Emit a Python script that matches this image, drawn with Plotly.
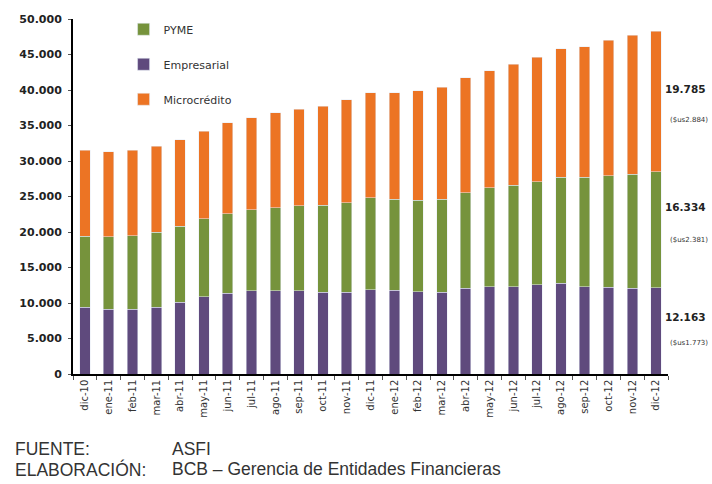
import plotly.graph_objects as go

meses = ["dic-10", "ene-11", "feb-11", "mar-11", "abr-11", "may-11", "jun-11", "jul-11",
         "ago-11", "sep-11", "oct-11", "nov-11", "dic-11", "ene-12", "feb-12", "mar-12",
         "abr-12", "may-12", "jun-12", "jul-12", "ago-12", "sep-12", "oct-12", "nov-12", "dic-12"]

empresarial = [9400, 9100, 9100, 9400, 10100, 10900, 11400, 11700, 11700, 11700, 11500, 11500,
               11900, 11800, 11600, 11500, 12100, 12300, 12300, 12600, 12800, 12300, 12250, 12100, 12163]
pyme = [10000, 10200, 10400, 10600, 10700, 11000, 11200, 11400, 11700, 12000, 12300, 12600,
        12900, 12800, 12900, 13100, 13400, 13900, 14300, 14500, 14900, 15400, 15650, 16000, 16334]
microcredito = [12100, 12000, 12000, 12100, 12200, 12300, 12800, 13000, 13400, 13600, 13900, 14500,
                14800, 15000, 15400, 15800, 16200, 16500, 17000, 17500, 18100, 18400, 19100, 19600, 19785]

etiquetas_derecha = [
    ("19.785", "($us2.884)"),
    ("16.334", "($us2.381)"),
    ("12.163", "($us1.773)"),
]

C_PURPLE = "#5F4A7D"
C_GREEN = "#76933C"
C_ORANGE = "#EC7424"

fig = go.Figure()
fig.add_trace(go.Bar(x=meses, y=empresarial, name="Empresarial", marker_color=C_PURPLE,
                     legendgroup="e", legendrank=2))
fig.add_trace(go.Bar(x=meses, y=pyme, name="PYME", marker_color=C_GREEN,
                     legendgroup="p", legendrank=1))
fig.add_trace(go.Bar(x=meses, y=microcredito, name="Microcrédito", marker_color=C_ORANGE,
                     legendgroup="m", legendrank=3))

annotations = []
ypos = [(0.803, 0.715), (0.470, 0.377), (0.161, 0.087)]
for (val, usd), (yv, yu) in zip(etiquetas_derecha, ypos):
    annotations.append(dict(text="<b>" + val + "</b>", x=1.067, y=yv, xref="paper", yref="paper",
                            xanchor="right", yanchor="middle", showarrow=False,
                            font=dict(family="DejaVu Sans", size=10.5, color="#222")))
    annotations.append(dict(text=usd, x=1.070, y=yu, xref="paper", yref="paper",
                            xanchor="right", yanchor="middle", showarrow=False,
                            font=dict(family="DejaVu Sans", size=7, color="#333")))

for txt, xp, yp in [("FUENTE:", -0.101, -0.211), ("ASFI", 0.163, -0.211),
                    ("ELABORACIÓN:", -0.101, -0.268),
                    ("BCB – Gerencia de Entidades Financieras", 0.163, -0.268)]:
    annotations.append(dict(text=txt, x=xp, y=yp, xref="paper", yref="paper",
                            xanchor="left", yanchor="middle", showarrow=False,
                            font=dict(family="Liberation Sans", size=17.5, color="#333")))

fig.update_layout(
    width=712, height=484,
    barmode="stack",
    bargap=0.56,
    separators=",.",
    paper_bgcolor="white",
    plot_bgcolor="white",
    margin=dict(l=73, r=44, t=19, b=110),
    font=dict(family="DejaVu Sans", color="#222"),
    showlegend=True,
    legend=dict(x=0.085, y=1.012, xanchor="left", yanchor="top",
                bgcolor="rgba(0,0,0,0)", tracegroupgap=16,
                font=dict(family="DejaVu Sans", size=11, color="#333")),
    annotations=annotations,
)

fig.update_yaxes(range=[0, 50000], dtick=5000, tickformat=",.0f",
                 showgrid=False, zeroline=False,
                 showline=True, linecolor="black", linewidth=2,
                 ticks="outside", ticklen=3, tickcolor="#555", ticklabelstandoff=4,
                 tickfont=dict(family="DejaVu Sans", size=11, color="#222", weight="bold"))
fig.update_xaxes(showgrid=False, showline=True, linecolor="black", linewidth=1.5,
                 ticks="outside", ticklen=4, tickcolor="#555", tickson="boundaries",
                 tickangle=-90,
                 tickfont=dict(family="DejaVu Sans", size=10, color="#333"))

fig.write_html("out.html", config={"displayModeBar": False},
               post_script="document.body.style.margin='0';document.body.style.overflow='hidden';")
